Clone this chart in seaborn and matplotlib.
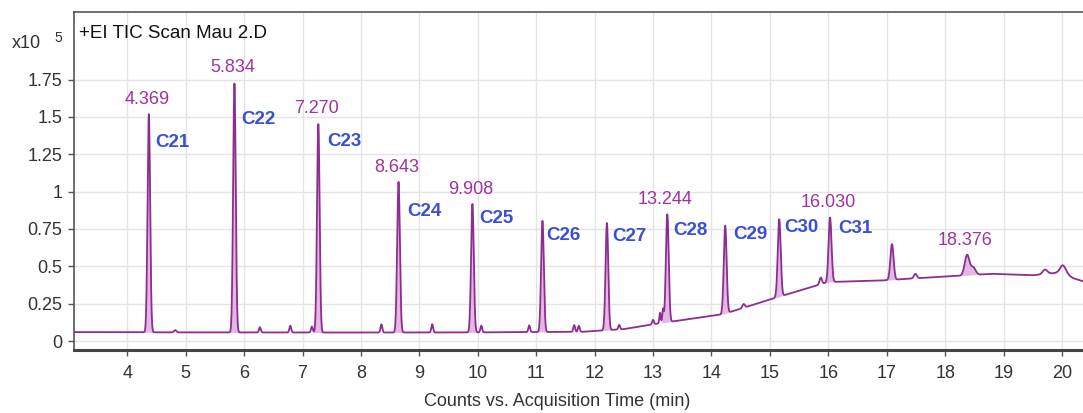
import numpy as np
import pandas as pd
import matplotlib
matplotlib.use("Agg")
import matplotlib.pyplot as plt
import seaborn as sns

# ---- chromatogram data (counts in units of 1e5, time in minutes) ----
peak_times = [4.369, 5.834, 7.270, 8.643, 9.908, 11.107, 12.21, 13.244,
              14.235, 15.16, 16.030, 17.09, 18.376]
peak_apex = [1.52, 1.73, 1.457, 1.066, 0.917, 0.805, 0.792, 0.848,
             0.772, 0.815, 0.828, 0.649, 0.576]
peak_sigma = [0.022, 0.022, 0.022, 0.023, 0.023, 0.023, 0.023, 0.024,
              0.024, 0.025, 0.025, 0.027, 0.04]
alkane_names = ["C21", "C22", "C23", "C24", "C25", "C26", "C27", "C28",
                "C29", "C30", "C31"]
labelled_rt = [4.369, 5.834, 7.270, 8.643, 9.908, 13.244, 16.030, 18.376]

# minor peaks: time, height above baseline, width
minor_times = [4.82, 6.27, 6.79, 7.16, 8.35, 9.22, 10.06, 10.88, 11.65, 11.73,
               12.42, 13.00, 13.12, 13.17, 14.55, 15.87, 17.49, 18.48, 19.71, 20.02]
minor_heights = [0.015, 0.035, 0.045, 0.04, 0.055, 0.055, 0.045, 0.045, 0.045, 0.04,
                 0.03, 0.03, 0.07, 0.09, 0.025, 0.045, 0.03, 0.05, 0.03, 0.05]
minor_sigma = [0.02, 0.015, 0.015, 0.015, 0.015, 0.015, 0.015, 0.015, 0.015, 0.015,
               0.015, 0.015, 0.012, 0.012, 0.02, 0.02, 0.025, 0.04, 0.04, 0.05]

# baseline drift
base_t = [3.0, 5.0, 8.0, 10.0, 11.8, 12.5, 13.1, 14.2, 15.1, 16.0, 16.9,
          17.5, 18.8, 19.5, 20.0, 20.2, 20.4]
base_y = [0.060, 0.058, 0.057, 0.058, 0.062, 0.08, 0.118, 0.18, 0.29, 0.395,
          0.405, 0.42, 0.45, 0.44, 0.46, 0.42, 0.395]

# ---- build the trace ----
t = np.arange(3.0, 20.45, 0.004)
baseline = np.interp(t, base_t, base_y)
signal = baseline.copy()
for tc, ap, sg in zip(peak_times, peak_apex, peak_sigma):
    amp = ap - np.interp(tc, base_t, base_y)
    signal += amp * np.exp(-0.5 * ((t - tc) / sg) ** 2)
for tc, h, sg in zip(minor_times, minor_heights, minor_sigma):
    signal += h * np.exp(-0.5 * ((t - tc) / sg) ** 2)
trace = pd.DataFrame({"time": t, "counts": signal})

# ---- figure ----
sns.set_theme(style="whitegrid")
plt.rcParams["font.family"] = ["Liberation Sans", "DejaVu Sans"]

DPI = 100
fig = plt.figure(figsize=(10.83, 4.13), dpi=DPI)
ax = fig.add_axes([0.0683, 0.1525, 0.9317, 0.8184])

line_color = "#8E2C92"
fill_color = "#DDA8DE"
rt_color = "#A0329F"
name_color = "#3B4FD4"

# shaded integration areas under the main peaks
for tc, sg in zip(peak_times, peak_sigma):
    win = np.abs(t - tc) < 4.0 * sg
    ax.fill_between(t[win], baseline[win], signal[win], color=fill_color,
                    alpha=0.8, linewidth=0)

sns.lineplot(data=trace, x="time", y="counts", ax=ax, color=line_color,
             linewidth=1.3, estimator=None, sort=False, errorbar=None)

ax.set_xlim(3.087, 20.36)
ax.set_ylim(-0.06, 2.202)
ax.set_xticks(range(4, 21))
ax.set_yticks([0, 0.25, 0.5, 0.75, 1, 1.25, 1.5, 1.75])
ax.yaxis.set_major_formatter(matplotlib.ticker.FuncFormatter(lambda v, p: f"{v:g}"))
ax.set_xlabel("")
ax.set_ylabel("")
ax.grid(True, color="#e4e4e4", linewidth=1.0)
ax.set_facecolor("white")
ax.tick_params(axis="both", which="major", direction="out", length=4.5,
               width=1.0, color="#555555", labelcolor="#333333",
               labelsize=13, bottom=True, left=True)
ax.tick_params(axis="x", pad=6)
ax.tick_params(axis="y", pad=4)

for side in ["left", "top"]:
    ax.spines[side].set_visible(True)
    ax.spines[side].set_color("#555555")
    ax.spines[side].set_linewidth(1.2)
ax.spines["bottom"].set_color("#444444")
ax.spines["bottom"].set_linewidth(2.2)
ax.spines["right"].set_visible(False)

# retention-time labels
for rt in labelled_rt:
    i = peak_times.index(rt)
    ax.annotate(f"{rt:.3f}", xy=(rt, peak_apex[i]), xytext=(-1.5, 10.5),
                textcoords="offset points", ha="center", va="center",
                fontsize=13, color=rt_color)

# alkane labels: offset (px right of peak, px below apex)
name_offsets = [(6, 29), (7, 37), (9, 18), (9, 30), (7, 14), (4, 15),
                (5, 14), (5.5, 16), (8, 9), (5, 8), (8.5, 11)]
px = 72.0 / DPI
for name, tc, ap, (dx, dy) in zip(alkane_names, peak_times, peak_apex, name_offsets):
    ax.annotate(name, xy=(tc, ap), xytext=(dx * px, -dy * px),
                textcoords="offset points", ha="left", va="center",
                fontsize=13.5, fontweight="bold", color=name_color)

ax.text(0.005, 0.935, "+EI TIC Scan Mau 2.D", transform=ax.transAxes,
        ha="left", va="center", fontsize=13.5, color="#111111")

fig.text(26 / 1083, 1 - 43.5 / 413, "x10", ha="center", va="center",
         fontsize=13, color="#333333")
fig.text(58.5 / 1083, 1 - 38 / 413, "5", ha="center", va="center",
         fontsize=10, color="#333333")
fig.text(557 / 1083, 1 - 402 / 413, "Counts vs. Acquisition Time (min)",
         ha="center", va="center", fontsize=13, color="#333333")

fig.savefig("out.png", dpi=DPI)
